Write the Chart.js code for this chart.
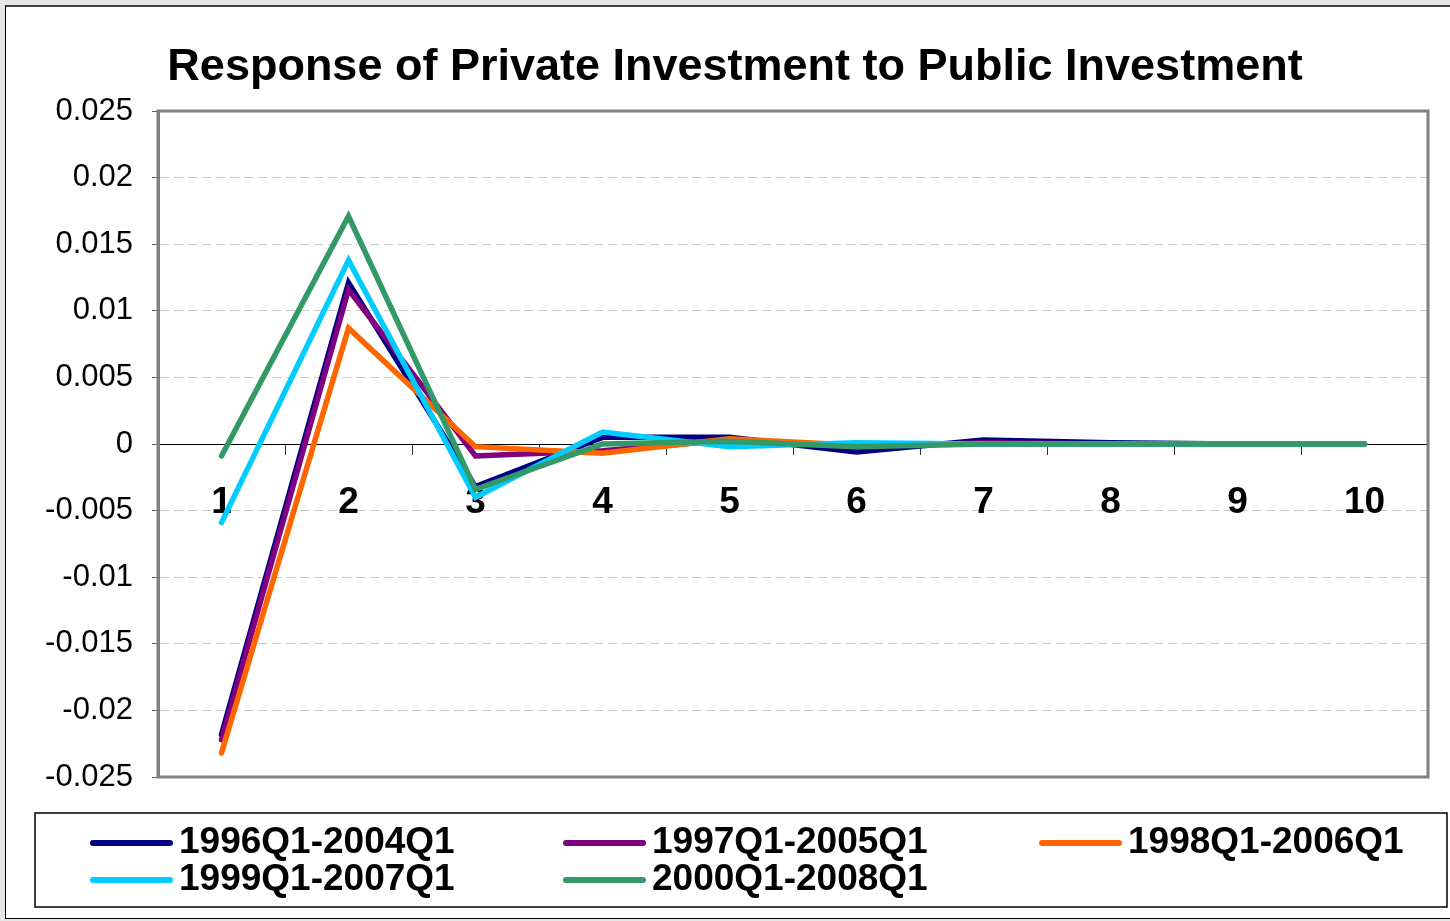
<!DOCTYPE html>
<html>
<head>
<meta charset="utf-8">
<title>Response of Private Investment to Public Investment</title>
<script src="https://cdn.jsdelivr.net/npm/chart.js@4/dist/chart.umd.min.js"></script>
<style>
html, body { margin: 0; padding: 0; background: #e6e6e6; }
canvas { display: block; }
</style>
</head>
<body>
<canvas id="c" width="1450" height="921"></canvas>
<script>
// горизонт отклика (кварталы)
const periods = ['1', '2', '3', '4', '5', '6', '7', '8', '9', '10'];

// отклики по окнам оценки
const r1996 = [-0.0218, 0.0121, -0.0032, 0.0005, 0.0005, -0.0006, 0.0003, 0.0001, 0, 0];
const r1997 = [-0.0222, 0.0116, -0.0009, -0.0005, 0.0003, -0.0002, 0.0001, 0, 0, 0];
const r1998 = [-0.0232, 0.0087, -0.0002, -0.0007, 0.0004, -0.0001, 0, 0, 0, 0];
const r1999 = [-0.0059, 0.0138, -0.0040, 0.0009, -0.0002, 0.0001, 0, 0, 0, 0];
const r2000 = [-0.0009, 0.0171, -0.0034, 0.0000, 0.0002, -0.0002, 0, 0, 0, 0];

const seriesNames = ['1996Q1-2004Q1', '1997Q1-2005Q1', '1998Q1-2006Q1', '1999Q1-2007Q1', '2000Q1-2008Q1'];
const seriesData = [r1996, r1997, r1998, r1999, r2000];
const seriesColors = ['#000080', '#800080', '#FF6600', '#00CCFF', '#339966'];

// шкала Y
const yMin = -0.025;
const yMax = 0.025;
const yStep = 0.005;

const FONT = '"Liberation Sans", Arial, sans-serif';

// рамка, граница области графика и легенда (как в Excel)
const framePlugin = {
	id: 'frame',
	beforeDraw(chart){
		const ctx = chart.ctx;
		ctx.save();
		ctx.fillStyle = '#e6e6e6';
		ctx.fillRect(0, 0, chart.width, chart.height);
		ctx.fillStyle = '#fff';
		ctx.fillRect(5, 5, chart.width, 914);
		ctx.fillStyle = '#404040';
		ctx.fillRect(5, 5, chart.width, 2);
		ctx.fillStyle = '#000';
		ctx.fillRect(5, 5, 1, 914);
		ctx.fillRect(5, 918, chart.width, 1);
		ctx.restore();
	},
	beforeDatasetsDraw(chart){
		const a = chart.chartArea;
		const ctx = chart.ctx;
		ctx.save();
		ctx.strokeStyle = '#808080';
		ctx.lineWidth = 3;
		ctx.strokeRect(a.left, a.top, a.right - a.left, a.bottom - a.top);
		ctx.restore();
	},
	afterDraw(chart){
		const ctx = chart.ctx;
		const cols = [93, 566, 1042];
		const lineY = [843, 880];
		const textY = [853, 890];
		ctx.save();
		ctx.strokeStyle = '#000';
		ctx.lineWidth = 1.5;
		ctx.strokeRect(35, 813, 1412, 94);
		ctx.font = 'bold 37px ' + FONT;
		ctx.textBaseline = 'alphabetic';
		ctx.textAlign = 'left';
		chart.data.datasets.forEach((ds, i) => {
			const c = i % 3, r = Math.floor(i / 3);
			ctx.strokeStyle = ds.borderColor;
			ctx.lineWidth = 6;
			ctx.lineCap = 'round';
			ctx.beginPath();
			ctx.moveTo(cols[c], lineY[r]);
			ctx.lineTo(cols[c] + 77, lineY[r]);
			ctx.stroke();
			ctx.fillStyle = '#000';
			ctx.fillText(ds.label, cols[c] + 86, textY[r]);
		});
		ctx.restore();
	}
};

const datasets = seriesNames.map((name, i) => ({
	label: name,
	data: seriesData[i],
	borderColor: seriesColors[i],
	backgroundColor: seriesColors[i],
	borderWidth: 5.5,
	borderCapStyle: 'round',
	pointRadius: 0,
	tension: 0,
	order: seriesNames.length - i // последняя серия поверх
}));

new Chart(document.getElementById('c'), {
	type: 'line',
	data: { labels: periods, datasets: datasets },
	plugins: [framePlugin],
	options: {
		responsive: false,
		animation: false,
		devicePixelRatio: 1,
		layout: { padding: { left: 42, right: 22, top: 10, bottom: 144 } },
		plugins: {
			legend: { display: false },
			tooltip: { enabled: false },
			title: {
				display: true,
				text: 'Response of Private Investment to Public Investment',
				color: '#000',
				font: { family: FONT, size: 45, weight: 'bold' },
				padding: { top: 31, bottom: 16 }
			}
		},
		scales: {
			x: {
				type: 'category',
				offset: true,
				position: { y: 0 },
				afterFit: (s) => { s.height = 0; },
				grid: { offset: true, drawOnChartArea: false, drawTicks: true, tickLength: 10, tickColor: '#333' },
				border: { display: true, color: '#000', width: 1 },
				ticks: {
					color: '#000',
					maxRotation: 0,
					autoSkip: false,
					padding: 27,
					font: { family: FONT, size: 37, weight: 'bold' }
				}
			},
			y: {
				min: yMin,
				max: yMax,
				afterFit: (s) => { s.width = 116; },
				grid: {
					color: '#c8c8c8',
					lineWidth: 1,
					drawTicks: true,
					tickLength: 6,
					tickColor: '#606060'
				},
				border: { display: true, color: '#808080', width: 3, dash: [9, 5] },
				ticks: {
					stepSize: yStep,
					color: '#000',
					padding: 19,
					font: { family: FONT, size: 31 },
					callback: (v) => String(Number(v.toFixed(4)))
				}
			}
		}
	}
});
</script>
</body>
</html>
